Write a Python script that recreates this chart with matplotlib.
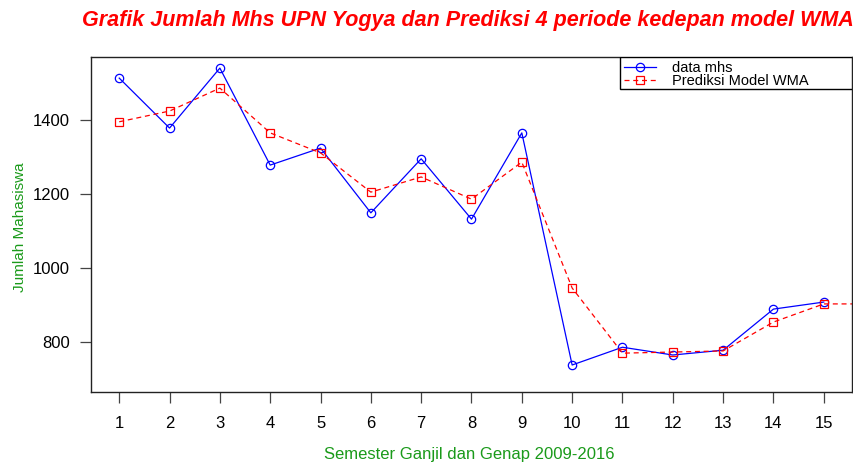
import numpy as np
import matplotlib.pyplot as plt
from matplotlib.patches import Rectangle

# ------------------
# DATA
# ------------------
periode = np.arange(1, 16)
data_mhs = [1513, 1378, 1540, 1278, 1324, 1149, 1295, 1132, 1365,
            738, 786, 765, 778, 889, 908]

periode_pred = np.arange(1, 20)
prediksi_wma = [1395, 1424, 1486, 1365, 1311, 1205, 1246, 1186, 1286,
                946, 770, 773, 776, 854, 903, 903, 903, 903, 903]

plt.rcParams['font.family'] = ['Liberation Sans', 'DejaVu Sans']

# ------------------
# PLOT
# ------------------
fig = plt.figure(figsize=(8.54, 4.63), dpi=100)
ax = fig.add_axes([0.1066, 0.1533, 0.891, 0.7236])

ax.plot(periode, data_mhs, color='blue', linewidth=0.9, marker='o',
        markersize=6, markerfacecolor='none', markeredgewidth=0.9,
        label='data mhs')
ax.plot(periode_pred, prediksi_wma, color='red', linewidth=0.9,
        linestyle=(0, (4, 3)), marker='s', markersize=6,
        markerfacecolor='none', markeredgewidth=0.9,
        label='Prediksi Model WMA')

ax.set_xlim(0.44, 15.56)
ax.set_ylim(665, 1570)
ax.set_xticks(periode)
ax.set_yticks([800, 1000, 1200, 1400])
ax.tick_params(axis='both', labelsize=12, length=8, width=0.9, color='#444444')
ax.tick_params(axis='x', pad=9)
ax.tick_params(axis='y', pad=7)
for s in ax.spines.values():
    s.set_linewidth(1)
    s.set_color('#222222')

fig.suptitle('Grafik Jumlah Mhs UPN Yogya dan Prediksi 4 periode kedepan model WMA',
             x=0.548, y=0.978, color='red', fontsize=15.5,
             fontweight='bold', fontstyle='italic')
fig.text(0.55, 0.009, 'Semester Ganjil dan Genap 2009-2016', color='#1a9a1a',
         fontsize=12, ha='center', va='baseline')
fig.text(0.023, 0.51, 'Jumlah Mahasiswa', color='#1a9a1a', fontsize=11,
         rotation=90, ha='center', va='center')

# legend box in R style (wide frame, tight rows)
ax.add_patch(Rectangle((0.695, 0.904), 0.305, 0.096, transform=ax.transAxes,
                       facecolor='white', edgecolor='black', linewidth=1,
                       zorder=4))
leg = ax.legend(loc='upper left', bbox_to_anchor=(0.697, 0.995),
                borderaxespad=0, fontsize=10.5, frameon=False,
                labelspacing=-0.05, handlelength=2.2, borderpad=0.15,
                handletextpad=1.1)
leg.set_zorder(5)

fig.savefig('out.png', dpi=100)
